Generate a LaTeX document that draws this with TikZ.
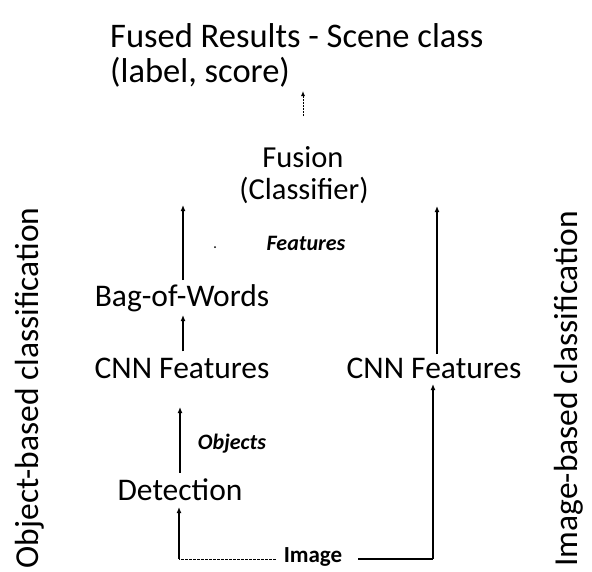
\documentclass[tikz,border=0pt]{standalone}
\usepackage{fontspec}
\setmainfont{Carlito}
\usetikzlibrary{arrows.meta}
\tikzset{
  lbl/.style={inner sep=0pt, font=\fontsize{31.5}{36}\selectfont},
  small/.style={inner sep=0pt, font=\fontsize{22}{26}\selectfont\bfseries\itshape},
  side/.style={inner sep=0pt, rotate=90, font=\fontsize{33.5}{40}\selectfont},
  flow/.style={line width=1.6pt, -{Latex[length=6pt,width=5pt]}},
  plain/.style={line width=1.6pt}
}
\begin{document}
\begin{tikzpicture}[x=1pt,y=-1pt]
  \useasboundingbox (0,0) rectangle (592,571);
  % title
  \node[inner sep=0pt, anchor=base west, font=\fontsize{34.5}{40}\selectfont] (t1) at (110,47) {Fused Results - Scene class};
  \node[inner sep=0pt, anchor=base west, font=\fontsize{34.5}{40}\selectfont] (t2) at (110,82) {(label, score)};
  % fusion stage
  \node[inner sep=0pt, font=\fontsize{30.5}{36}\selectfont] (fus) at (303,157) {Fusion};
  \node[inner sep=0pt, font=\fontsize{30.5}{36}\selectfont] (cls) at (304,190) {(Classifier)};
  \coordinate (resBot) at (303,91);
  \draw[line width=1pt, dash pattern=on 2pt off 1pt, -{Latex[length=5pt,width=4pt]}] (fus.north |- 0,116) -- (resBot);
  % object branch
  \node[lbl] (bow) at (182,298) {Bag-of-Words};
  \node[lbl] (cnnl) at (182,368) {CNN Features};
  \node[lbl] (det) at (180,490) {Detection};
  \node[small] (objs) at (232,444) {Objects};
  \node[small] (feat) at (306,243) {Features};
  \fill (215,247) circle (1pt);
  % image branch
  \node[lbl] (cnnr) at (434,368) {CNN Features};
  \node[inner sep=0pt, font=\fontsize{23}{26}\selectfont\bfseries] (img) at (313,557) {Image};
  % arrows
  \coordinate (bowTop) at (183,205);
  \coordinate (rTop) at (437,206);
  \coordinate (bl) at (179,559);
  \coordinate (br) at (433,559);
  \draw[flow] (bow.north -| bowTop) ++(0,-4) -- (bowTop);
  \draw[flow] (cnnl.north -| 183,0) ++(0,-6) -- (183,315);
  \draw[flow] (det.north -| 180,0) ++(0,-6) -- (180,407);
  \draw[flow] (437,354) -- (rTop);
  \draw[line width=1pt, dash pattern=on 3pt off 1pt] (img.west |- bl) ++(-8,0) -- (bl);
  \draw[flow] (bl) -- (179,507);
  \draw[plain] (img.east |- br) ++(16,0) -- (br);
  \draw[flow] (br) -- (433,384);
  % side labels
  \node[side] (objside) at (30,388) {Object-based classification};
  \node[side] (imgside) at (569,389) {Image-based classification};
\end{tikzpicture}
\end{document}
